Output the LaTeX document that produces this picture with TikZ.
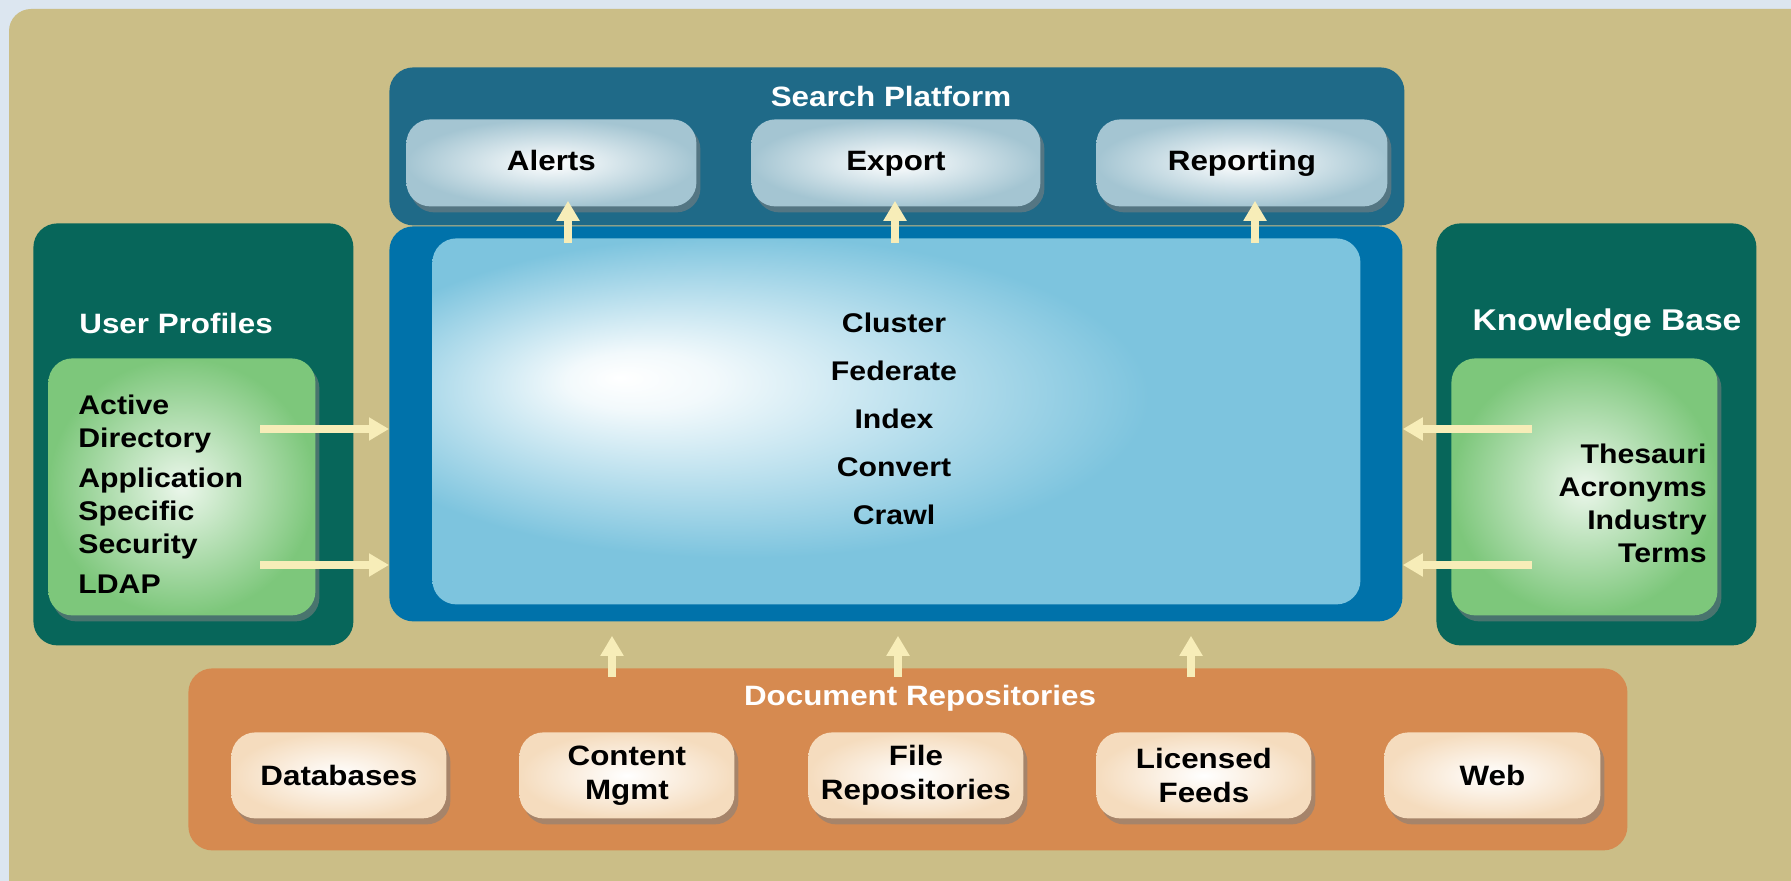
\documentclass[tikz,border=0pt]{standalone}
\usepackage{fontspec}
\usetikzlibrary{shadows,arrows.meta,calc}
\newfontfamily\lblfont{Liberation Sans}[FakeStretch=1.12]
\newcommand{\px}{0.5pt}

\definecolor{pagebg}{HTML}{DCE6F0}
\definecolor{sand}{HTML}{CBBE87}
\definecolor{platform}{HTML}{1F6A88}
\definecolor{button}{HTML}{A4C5D2}
\definecolor{coreblue}{HTML}{0072AA}
\definecolor{corelite}{HTML}{7DC4DE}
\definecolor{panelgreen}{HTML}{07665A}
\definecolor{leafgreen}{HTML}{7DC77B}
\definecolor{repo}{HTML}{D68A50}
\definecolor{peach}{HTML}{F5DCBE}
\definecolor{cream}{HTML}{F7EDB8}

\pgfdeclareradialshading{coreglow}{\pgfpoint{-15bp}{6bp}}{color(0bp)=(white); color(4bp)=(white!90!corelite); color(22bp)=(corelite); color(50bp)=(corelite)}

\begin{document}
\begin{tikzpicture}[x=\px, y=-\px,
    box/.style={rectangle, rounded corners=12pt, anchor=north west, inner sep=0pt},
    size/.style 2 args={minimum width=#1*\px, minimum height=#2*\px},
    panel/.style={box, fill=#1},
    shade/.style={drop shadow={shadow xshift=2pt, shadow yshift=-3pt, opacity=.55}},
    button/.style={box, shade, inner color=white, outer color=button, text height=10.5pt, text depth=2.5pt,
        font=\lblfont\bfseries\fontsize{14pt}{17pt}\selectfont},
    leaf/.style={box, shade, inner color=white!85!leafgreen, outer color=leafgreen},
    source/.style={box, shade, inner color=white, outer color=peach, align=center,
        font=\lblfont\bfseries\fontsize{14pt}{17pt}\selectfont},
    title/.style={text=white, inner sep=0pt, font=\lblfont\bfseries\fontsize{14pt}{17pt}\selectfont},
    body/.style={inner sep=0pt, font=\lblfont\bfseries\fontsize{13.5pt}{16.5pt}\selectfont},
    flow/.style={draw=cream, line width=4pt, -{Triangle[width=11pt,length=10pt]}}]

    \useasboundingbox (0,0) rectangle (1791,881);
    \fill[pagebg] (0,0) rectangle (1791,881);
    \fill[sand, rounded corners=11pt] (9,9) rectangle (1840,930);

    % Search platform
    \node[panel=platform, size={1015}{158}] (platform) at (389,67) {};
    \node[title] (platform-title) at (891,96) {Search Platform};
    \node[button, size={290}{87}] (alerts) at (406,119) {Alerts};
    \node[button, size={289}{87}] (export) at (751,119) {Export};
    \node[button, size={291}{87}] (reporting) at (1096,119) {Reporting};

    % Core
    \node[panel=coreblue, size={1013}{395}] (core) at (389,226) {};
    \node[box, shading=coreglow, size={928}{366}] (core-inner) at (432,238) {};
    \node[body, align=center, font=\lblfont\bfseries\fontsize{13.5pt}{24pt}\selectfont] (core-text) at (894,419) {Cluster\\Federate\\Index\\Convert\\Crawl};

    % User profiles
    \node[panel=panelgreen, size={320}{422}] (profiles) at (33,223) {};
    \node[title, anchor=west] (profiles-title) at (79,323) {User Profiles};
    \node[leaf, size={267}{257}] (profiles-inner) at (48,358) {};
    \node[body, anchor=west, align=left] (profiles-text) at (78,494) {Active\\Directory\\[3.5pt]Application\\Specific\\Security\\[3.5pt]LDAP};

    % Knowledge base
    \node[panel=panelgreen, size={320}{422}] (knowledge) at (1436,223) {};
    \node[title, font=\lblfont\bfseries\fontsize{15pt}{17pt}\selectfont] (knowledge-title) at (1607,323) {Knowledge Base};
    \node[leaf, size={266}{257}] (knowledge-inner) at (1451,358) {};
    \node[body, anchor=east, align=right] (knowledge-text) at (1707,503) {Thesauri\\Acronyms\\Industry\\Terms};

    % Document repositories
    \node[panel=repo, size={1439}{182}] (repos) at (188,668) {};
    \node[title] (repos-title) at (920,698) {Document Repositories};
    \node[source, size={215}{86}] (databases) at (231,732) {Databases};
    \node[source, size={215}{86}] (content) at (519,732) {Content\\Mgmt};
    \node[source, size={215}{86}] (files) at (808,732) {File\\Repositories};
    \node[source, size={215}{86}] (feeds) at (1096,732) {Licensed\\Feeds};
    \node[source, size={216}{86}] (web) at (1384,732) {Web};

    % Arrows
    \coordinate (alerts-in) at (568,243);
    \coordinate (export-in) at (895,243);
    \coordinate (reporting-in) at (1255,243);
    \draw[flow] (alerts-in) -- ($(alerts-in |- alerts.south)+(0,-6)$);
    \draw[flow] (export-in) -- ($(export-in |- export.south)+(0,-6)$);
    \draw[flow] (reporting-in) -- ($(reporting-in |- reporting.south)+(0,-6)$);

    \coordinate (profiles-a) at (260,429);
    \coordinate (profiles-b) at (260,565);
    \draw[flow] (profiles-a) -- (profiles-a -| core.west);
    \draw[flow] (profiles-b) -- (profiles-b -| core.west);

    \coordinate (knowledge-a) at (1532,429);
    \coordinate (knowledge-b) at (1532,565);
    \draw[flow] (knowledge-a) -- (knowledge-a -| core.east);
    \draw[flow] (knowledge-b) -- (knowledge-b -| core.east);

    \coordinate (repos-a) at (612,677);
    \coordinate (repos-b) at (898,677);
    \coordinate (repos-c) at (1191,677);
    \draw[flow] (repos-a) -- ($(repos-a |- core.south)+(0,14)$);
    \draw[flow] (repos-b) -- ($(repos-b |- core.south)+(0,14)$);
    \draw[flow] (repos-c) -- ($(repos-c |- core.south)+(0,14)$);

\end{tikzpicture}
\end{document}
